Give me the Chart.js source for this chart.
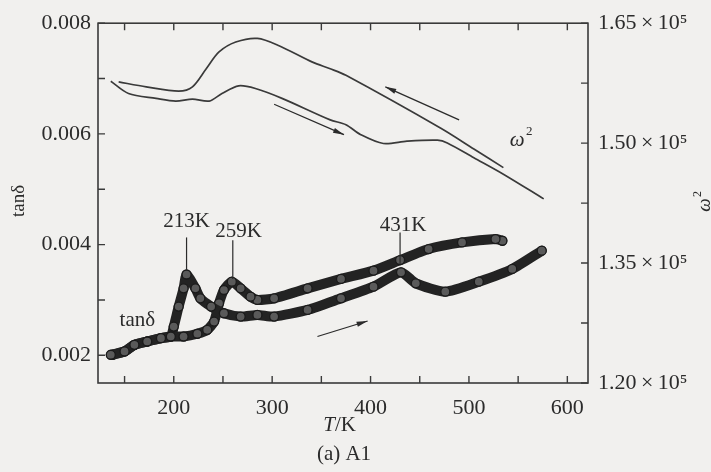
<!DOCTYPE html>
<html lang="zh">
<head>
<meta charset="UTF-8">
<title>tanδ and ω² vs T (a) A1</title>
<script src="https://cdn.jsdelivr.net/npm/chart.js"></script>
<style>
  html, body { margin: 0; padding: 0; background: #f1f0ee; }
  canvas { display: block; }
</style>
</head>
<body>
<canvas id="fig" width="711" height="472"></canvas>
<script>
  // omega^2, heating run (low T -> high T)
  const omegaHeatT = [136, 154, 182, 202, 219, 236, 249, 266, 283, 310, 359, 375, 390, 413, 437, 468, 478, 505, 535, 576];
  const omegaHeat  = [157740, 156210, 155600, 155260, 155510, 155260, 156210, 157170, 156830, 155600, 152910, 152300, 151060, 149950, 150250, 150370, 150030, 148180, 146120, 143030];

  // omega^2, cooling run (high T -> low T)
  const omegaCoolT = [535, 505, 471, 375, 359, 341, 307, 285, 263, 246, 233, 219, 205, 172, 144];
  const omegaCool  = [146940, 149270, 151890, 158480, 159300, 160130, 162190, 163100, 162640, 161400, 159300, 157040, 156500, 157040, 157660];

  // tan delta, heating run
  const tanHeatT = [136, 150, 160, 173, 187, 197, 200, 205, 210, 213, 222, 227, 238, 251, 268, 285, 302, 336, 370, 403, 431, 446, 476, 510, 544, 574];
  const tanHeat  = [0.00201, 0.00207, 0.00219, 0.00225, 0.00231, 0.00234, 0.00252, 0.00288, 0.00321, 0.00346, 0.00321, 0.00303, 0.00288, 0.00276, 0.00270, 0.00273, 0.00270, 0.00282, 0.00303, 0.00324, 0.00350, 0.00330, 0.00315, 0.00333, 0.00356, 0.00389];

  // tan delta, cooling run
  const tanCoolT = [534, 527, 493, 459, 430, 403, 370, 336, 302, 285, 278, 268, 259, 251, 246, 241, 234, 224, 210, 197, 187, 173, 160, 150, 138];
  const tanCool  = [0.00407, 0.00410, 0.00404, 0.00392, 0.00372, 0.00353, 0.00338, 0.00321, 0.00303, 0.00300, 0.00306, 0.00321, 0.00333, 0.00318, 0.00294, 0.00261, 0.00246, 0.00239, 0.00234, 0.00234, 0.00231, 0.00225, 0.00219, 0.00207, 0.00201];

  // ticks
  const xTickValues = [150, 200, 250, 300, 350, 400, 450, 500, 550, 600];
  const xTickLabels = ['', '200', '', '300', '', '400', '', '500', '', '600'];
  const tanTickValues = [0.002, 0.003, 0.004, 0.005, 0.006, 0.007, 0.008];
  const tanTickLabels = ['0.002', '', '0.004', '', '0.006', '', '0.008'];
  const omegaTickValues = [120000, 127500, 135000, 142500, 150000, 157500, 165000];
  const omegaTickLabels = ['1.20\u2009×\u200910⁵', '', '1.35\u2009×\u200910⁵', '', '1.50\u2009×\u200910⁵', '', '1.65\u2009×\u200910⁵'];

  // peak markers (temperature, text, line ends and label spot in tan delta units)
  const peakT      = [213, 260, 430];
  const peakNames  = ['213K', '259K', '431K'];
  const peakTop    = [0.00413, 0.00408, 0.00422];
  const peakBottom = [0.00354, 0.00338, 0.00365];
  const peakLabelT   = [213, 266, 433];
  const peakLabelTan = [0.00442, 0.00424, 0.00434];

  // direction arrows [T from, value from, T to, value to, axis]
  const arrows = [
    [490, 152910, 415, 157040, 'y2'],
    [302, 154860, 373, 151060, 'y2'],
    [346, 0.00234, 397, 0.00262, 'y']
  ];

  const serif = "'Liberation Serif', 'DejaVu Serif', serif";
  const ink = '#2b2b2b';

  function pts(xs, ys) { return xs.map((x, i) => ({ x: x, y: ys[i] })); }

  const decor = {
    id: 'decor',
    beforeDraw(chart) {
      const c = chart.ctx;
      c.save();
      c.fillStyle = '#f1f0ee';
      c.fillRect(0, 0, chart.width, chart.height);
      c.restore();
    },
    afterDatasetsDraw(chart) {
      const c = chart.ctx, sx = chart.scales.x, sy = chart.scales.y;
      c.save();
      c.strokeStyle = ink; c.fillStyle = ink;
      // peak lines + labels
      c.lineWidth = 1.2;
      c.font = '21px ' + serif;
      c.textAlign = 'center'; c.textBaseline = 'middle';
      peakT.forEach((t, i) => {
        const px = sx.getPixelForValue(t);
        c.beginPath();
        c.moveTo(px, sy.getPixelForValue(peakTop[i]));
        c.lineTo(px, sy.getPixelForValue(peakBottom[i]));
        c.stroke();
        c.fillText(peakNames[i], sx.getPixelForValue(peakLabelT[i]), sy.getPixelForValue(peakLabelTan[i]));
      });
      // arrows
      arrows.forEach(a => {
        const ys = chart.scales[a[4]];
        const x0 = sx.getPixelForValue(a[0]), y0 = ys.getPixelForValue(a[1]);
        const x1 = sx.getPixelForValue(a[2]), y1 = ys.getPixelForValue(a[3]);
        const ang = Math.atan2(y1 - y0, x1 - x0);
        c.lineWidth = 1.3;
        c.beginPath(); c.moveTo(x0, y0); c.lineTo(x1, y1); c.stroke();
        c.beginPath();
        c.moveTo(x1, y1);
        c.lineTo(x1 - 11 * Math.cos(ang) + 2.6 * Math.sin(ang), y1 - 11 * Math.sin(ang) - 2.6 * Math.cos(ang));
        c.lineTo(x1 - 11 * Math.cos(ang) - 2.6 * Math.sin(ang), y1 - 11 * Math.sin(ang) + 2.6 * Math.cos(ang));
        c.closePath(); c.fill();
      });
      // series names inside the plot
      c.font = '21px ' + serif;
      c.fillText('tanδ', sx.getPixelForValue(163), sy.getPixelForValue(0.00263));
      const ox = sx.getPixelForValue(549), oy = chart.scales.y2.getPixelForValue(150530);
      c.font = 'italic 21px ' + serif;
      c.fillText('ω', ox, oy + 2);
      c.font = '13px ' + serif;
      c.fillText('2', ox + 12, oy - 7);
      c.restore();
    },
    afterDraw(chart) {
      const c = chart.ctx, a = chart.chartArea;
      const sx = chart.scales.x, sy = chart.scales.y, s2 = chart.scales.y2;
      c.save();
      c.strokeStyle = '#3a3a3a';
      c.lineWidth = 1.6;
      c.strokeRect(a.left, a.top, a.right - a.left, a.bottom - a.top);
      c.lineWidth = 1.4;
      c.beginPath();
      xTickValues.forEach(v => {
        const p = sx.getPixelForValue(v);
        c.moveTo(p, a.bottom); c.lineTo(p, a.bottom - 7);
        c.moveTo(p, a.top); c.lineTo(p, a.top + 7);
      });
      tanTickValues.forEach(v => {
        const p = sy.getPixelForValue(v);
        c.moveTo(a.left, p); c.lineTo(a.left + 7, p);
      });
      omegaTickValues.forEach(v => {
        const p = s2.getPixelForValue(v);
        c.moveTo(a.right, p); c.lineTo(a.right - 7, p);
      });
      c.stroke();
      // axis titles
      c.fillStyle = ink;
      c.textAlign = 'center'; c.textBaseline = 'middle';
      c.save();
      c.translate(19, 201); c.rotate(-Math.PI / 2);
      c.font = '19px ' + serif;
      c.fillText('tanδ', 0, 0);
      c.restore();
      c.save();
      c.translate(705, 201); c.rotate(-Math.PI / 2);
      c.font = 'italic 19px ' + serif;
      c.fillText('ω', -4, 0);
      c.font = '12px ' + serif;
      c.fillText('2', 7, -7);
      c.restore();
      const mid = (a.left + a.right) / 2;
      c.font = 'italic 21px ' + serif;
      c.textAlign = 'right';
      c.fillText('T', mid - 8, 425);
      c.font = '21px ' + serif;
      c.textAlign = 'left';
      c.fillText('/K', mid - 8, 425);
      c.textAlign = 'center';
      c.fillText('(a) A1', mid + 1, 454);
      c.restore();
    }
  };

  const tickFont = { family: serif, size: 22 };

  new Chart(document.getElementById('fig'), {
    type: 'scatter',
    data: {
      datasets: [
        { data: pts(omegaHeatT, omegaHeat), yAxisID: 'y2', showLine: true, pointRadius: 0,
          borderColor: '#3a3a3a', borderWidth: 1.7, tension: 0.3 },
        { data: pts(omegaCoolT, omegaCool), yAxisID: 'y2', showLine: true, pointRadius: 0,
          borderColor: '#3a3a3a', borderWidth: 1.7, tension: 0.3 },
        { data: pts(tanHeatT, tanHeat), yAxisID: 'y', showLine: true, tension: 0.2,
          borderColor: '#232323', borderWidth: 10, borderCapStyle: 'round', borderJoinStyle: 'round',
          pointRadius: 4.5, pointBorderWidth: 1.3, pointBorderColor: '#1a1a1a', pointBackgroundColor: '#5a5a5a' },
        { data: pts(tanCoolT, tanCool), yAxisID: 'y', showLine: true, tension: 0.2,
          borderColor: '#232323', borderWidth: 10, borderCapStyle: 'round', borderJoinStyle: 'round',
          pointRadius: 4.5, pointBorderWidth: 1.3, pointBorderColor: '#1a1a1a', pointBackgroundColor: '#5a5a5a' }
      ]
    },
    options: {
      responsive: false,
      animation: false,
      devicePixelRatio: 1,
      layout: { padding: { top: 19, left: 0, right: 0, bottom: 0 } },
      plugins: { legend: { display: false }, tooltip: { enabled: false } },
      scales: {
        x: {
          type: 'linear', position: 'bottom', min: 123, max: 621,
          afterBuildTicks: s => { s.ticks = xTickValues.map(v => ({ value: v })); },
          afterFit: s => { s.height = 89; },
          grid: { display: false, drawTicks: false },
          border: { display: false },
          ticks: { autoSkip: false, maxRotation: 0, padding: 12, color: ink, font: tickFont,
                   callback: (v, i) => xTickLabels[i] }
        },
        y: {
          type: 'linear', position: 'left', min: 0.0015, max: 0.008,
          afterBuildTicks: s => { s.ticks = tanTickValues.map(v => ({ value: v })); },
          afterFit: s => { s.width = 98; },
          grid: { display: false, drawTicks: false },
          border: { display: false },
          ticks: { autoSkip: false, padding: 7, color: ink, font: tickFont,
                   callback: (v, i) => tanTickLabels[i] }
        },
        y2: {
          type: 'linear', position: 'right', min: 120000, max: 165000,
          afterBuildTicks: s => { s.ticks = omegaTickValues.map(v => ({ value: v })); },
          afterFit: s => { s.width = 123; },
          grid: { display: false, drawTicks: false },
          border: { display: false },
          ticks: { autoSkip: false, padding: 10, color: ink, font: tickFont,
                   callback: (v, i) => omegaTickLabels[i] }
        }
      }
    },
    plugins: [decor]
  });
</script>
</body>
</html>
